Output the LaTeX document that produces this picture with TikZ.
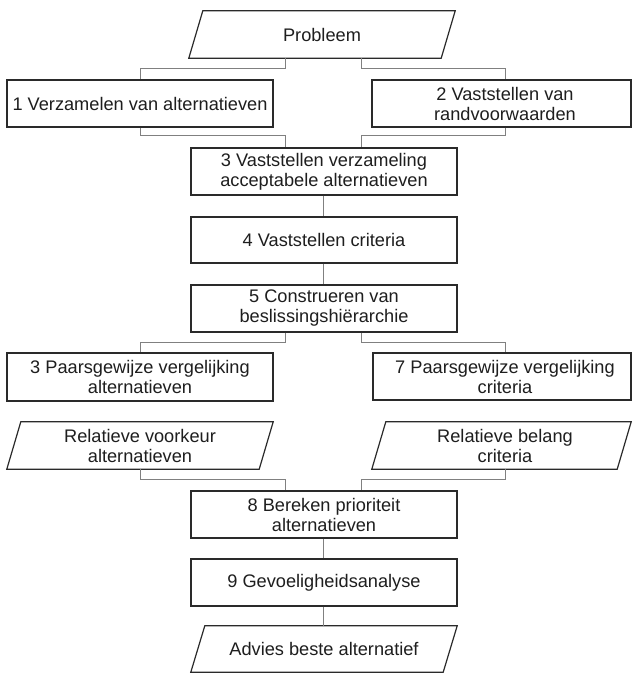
\documentclass[tikz,border=0pt]{standalone}
\usepackage{fontspec}
\setmainfont{Liberation Sans}
\definecolor{boxcol}{HTML}{2A2A2A}
\definecolor{conncol}{HTML}{808080}
\definecolor{txtcol}{HTML}{1E1E1E}
\begin{document}
\begin{tikzpicture}[x=1pt,y=-1pt,
  every node/.style={inner sep=0pt, align=center, text=txtcol,
    font=\fontsize{18.2}{20}\selectfont},
  stepbox/.style={rectangle, draw=boxcol, line width=1.2pt, minimum width=266pt, minimum height=47pt},
  parabox/.style={rectangle, minimum width=252pt, minimum height=47pt},
  pline/.style={draw=boxcol, line width=1.2pt, line join=miter},
  conn/.style={draw=conncol, line width=0.8pt}]
\useasboundingbox[fill=white] (0,0) rectangle (633,673);

% nodes
\node[parabox] (prob) at (322,34.5) {Probleem};
\node[stepbox] (b1) at (140,103.5) {1 Verzamelen van alternatieven};
\node[stepbox, minimum width=259pt] (b2) at (501.5,103.5) {};
\node at (505,103.5) (b2t) {2 Vaststellen van\\randvoorwaarden};
\node[stepbox] (b3) at (324,171.5) {3 Vaststellen verzameling\\acceptabele alternatieven};
\node[stepbox, minimum height=46pt] (b4) at (324,240) {4 Vaststellen criteria};
\node[stepbox] (b5) at (324,308.5) {5 Construeren van\\beslissingshiërarchie};
\node[stepbox, minimum height=48pt] (b6) at (140,377) {3 Paarsgewijze vergelijking\\alternatieven};
\node[stepbox, minimum width=258pt] (b7) at (502,376.5) {};
\node at (505,376.5) (b7t) {7 Paarsgewijze vergelijking\\criteria};
\node[parabox] (rv) at (140,445.5) {Relatieve voorkeur\\alternatieven};
\node[parabox, minimum width=245pt] (rb) at (501.5,445.5) {};
\node at (505,445.5) (rbt) {Relatieve belang\\criteria};
\node[stepbox] (b8) at (324,514.5) {8 Bereken prioriteit\\alternatieven};
\node[stepbox] (b9) at (324,582.5) {9 Gevoeligheidsanalyse};
\node[parabox, minimum height=46pt] (adv) at (324,649) {Advies beste alternatief};

% parallelogram outlines
\foreach \n in {prob,rv,rb,adv}{
  \draw[pline] ([xshift=7pt]\n.north west) -- ([xshift=7pt]\n.north east)
    -- ([xshift=-7pt]\n.south east) -- ([xshift=-7pt]\n.south west) -- cycle;
}

% connectors
\draw[conn] ([xshift=-37pt]prob.south) -- ++(0,10) -| (b1.north);
\draw[conn] ([xshift=39pt]prob.south) -- ++(0,10) -| ([xshift=3.5pt]b2.north);
\draw[conn] (b1.south) -- ++(0,8) -| ([xshift=-39pt]b3.north);
\draw[conn] ([xshift=3.5pt]b2.south) -- ++(0,8) -| ([xshift=37pt]b3.north);
\draw[conn] ([xshift=-1pt]b3.south) -- ([xshift=-1pt]b4.north);
\draw[conn] ([xshift=-1pt]b4.south) -- ([xshift=-1pt]b5.north);
\draw[conn] ([xshift=-39pt]b5.south) -- ++(0,10) -| (b6.north);
\draw[conn] ([xshift=37pt]b5.south) -- ++(0,10) -| ([xshift=3pt]b7.north);
\draw[conn] (rv.south) -- ++(0,10) -| ([xshift=-39pt]b8.north);
\draw[conn] ([xshift=3.5pt]rb.south) -- ++(0,10) -| ([xshift=37pt]b8.north);
\draw[conn] ([xshift=-1pt]b8.south) -- ([xshift=-1pt]b9.north);
\draw[conn] ([xshift=-1pt]b9.south) -- ([xshift=-1pt]adv.north);
\end{tikzpicture}
\end{document}
